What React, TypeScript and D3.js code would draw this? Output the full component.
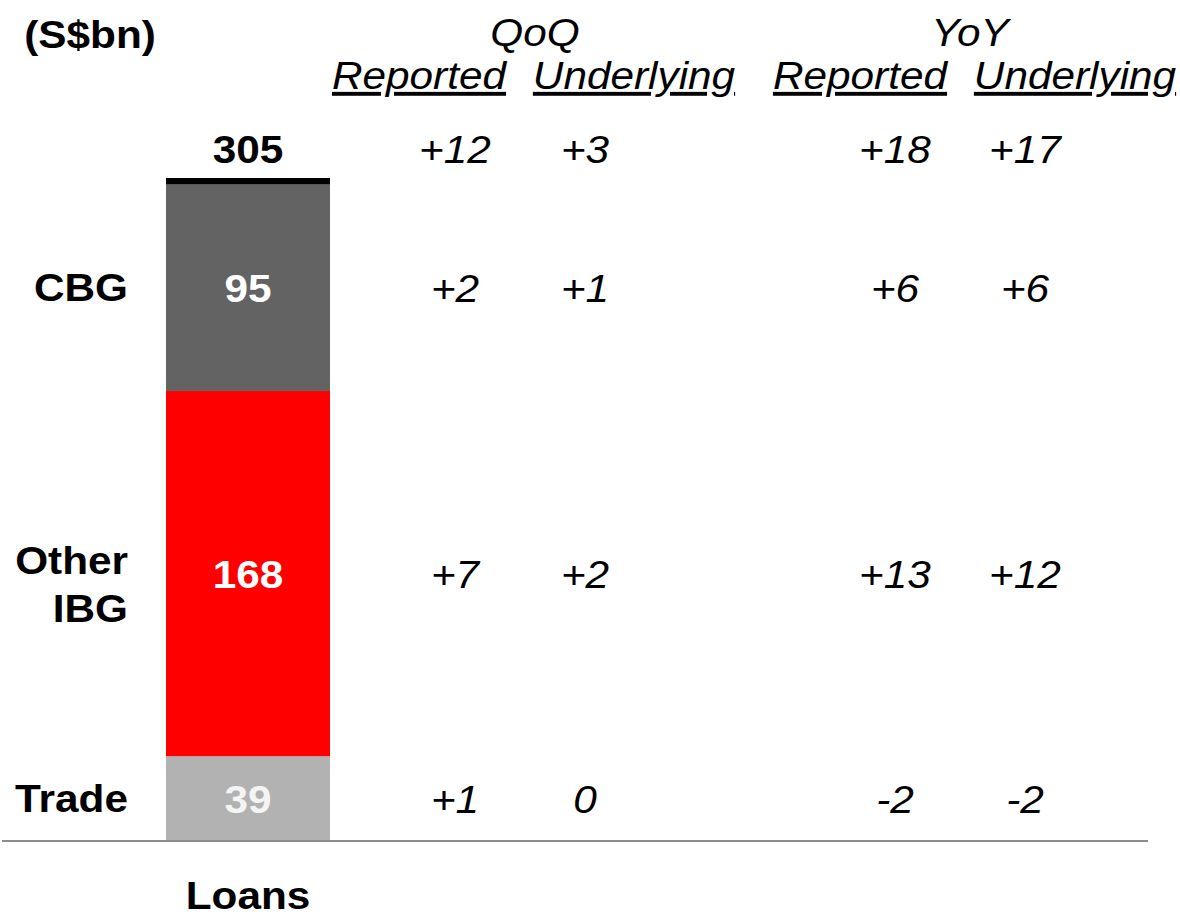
import React from "react";
import * as d3 from "d3";

const segments = ["Trade", "Other IBG", "CBG", "Others"];
const segmentValues = [39, 168, 95, 3];
const segmentColors = ["#B2B2B2", "#FF0000", "#636363", "#000000"];
const segmentLabelLines = [["Trade"], ["Other", "IBG"], ["CBG"], []];
const total = 305;
const barCategory = ["Loans"];

const columnGroups = ["QoQ", "YoY"];
const columnHeaders = ["Reported", "Underlying", "Reported", "Underlying"];
const totalChanges = [12, 3, 18, 17];
const qoqReported = [1, 7, 2];
const qoqUnderlying = [0, 2, 1];
const yoyReported = [-2, 13, 6];
const yoyUnderlying = [-2, 12, 6];

const W = 1180;
const H = 919;
const FONT = "'Liberation Sans', Arial, sans-serif";
const SX = 1.085;
const FS = 39;

const fmt = (d: number) => (d > 0 ? "+" + d : String(d));

function T(props: { x: number; y: number; children: React.ReactNode; anchor?: string; bold?: boolean; italic?: boolean; fill?: string; underline?: boolean; size?: number }) {
  const { x, y, children, anchor = "middle", bold, italic, fill = "#000", underline, size = FS } = props;
  return (
    <text
      transform={`translate(${x},${y}) scale(${SX},1)`}
      textAnchor={anchor}
      fontFamily={FONT}
      fontSize={size}
      fontWeight={bold ? "bold" : "normal"}
      fontStyle={italic ? "italic" : "normal"}
      fill={fill}
      textDecoration={underline ? "underline" : undefined}
    >
      {children}
    </text>
  );
}

export default function App() {
  const y = d3.scaleLinear().domain([0, total]).range([841, 178]);
  const x = d3.scaleBand().domain(barCategory).range([166, 330]).padding(0);
  const stackData = [Object.fromEntries(segments.map((s, i) => [s, segmentValues[i]]))];
  const stack = d3.stack<any>().keys(segments)(stackData);
  const bx = x("Loans") as number;
  const bw = x.bandwidth();
  const cx = bx + bw / 2;

  const headerX = [419, 634, 860, 1075];
  const groupX = [535, 970];
  const valueX = [455, 585, 895, 1025];
  const rowSeries = [qoqReported, qoqUnderlying, yoyReported, yoyUnderlying];

  return (
    <svg width={W} height={H} style={{ position: "absolute", left: 0, top: 0, background: "#fff" }}>
      {stack.map((layer, i) => {
        const d = layer[0];
        return <rect key={i} x={bx} width={bw} y={y(d[1])} height={y(d[0]) - y(d[1])} fill={segmentColors[i]} />;
      })}
      <line x1={2} x2={1148} y1={y(0)} y2={y(0)} stroke="#8C8C8C" strokeWidth={2} />

      <T x={90} y={48} bold>(S$bn)</T>
      {columnGroups.map((g, i) => (
        <T key={g} x={groupX[i]} y={46} italic>{g}</T>
      ))}
      {columnHeaders.map((h, i) => (
        <T key={i} x={headerX[i]} y={89} italic underline>{h}</T>
      ))}

      <T x={cx} y={163} bold>{total}</T>
      {totalChanges.map((v, i) => (
        <T key={i} x={valueX[i]} y={163} italic>{fmt(v)}</T>
      ))}

      {[0, 1, 2].map((si) => {
        const d = stack[si][0];
        const my = (y(d[0]) + y(d[1])) / 2;
        const lines = segmentLabelLines[si];
        const base = lines.length > 1 ? my : my + 13;
        return (
          <g key={si}>
            {lines.map((l, li) => (
              <T key={li} x={128} y={base + li * 48} anchor="end" bold>{l}</T>
            ))}
            <T x={cx} y={my + 14} bold fill={si === 0 ? "#F4F4F4" : "#fff"}>{segmentValues[si]}</T>
            {rowSeries.map((s, ci) => (
              <T key={ci} x={valueX[ci]} y={my + 14} italic>{fmt(s[si])}</T>
            ))}
          </g>
        );
      })}

      <T x={cx} y={909} bold>{barCategory[0]}</T>
    </svg>
  );
}
